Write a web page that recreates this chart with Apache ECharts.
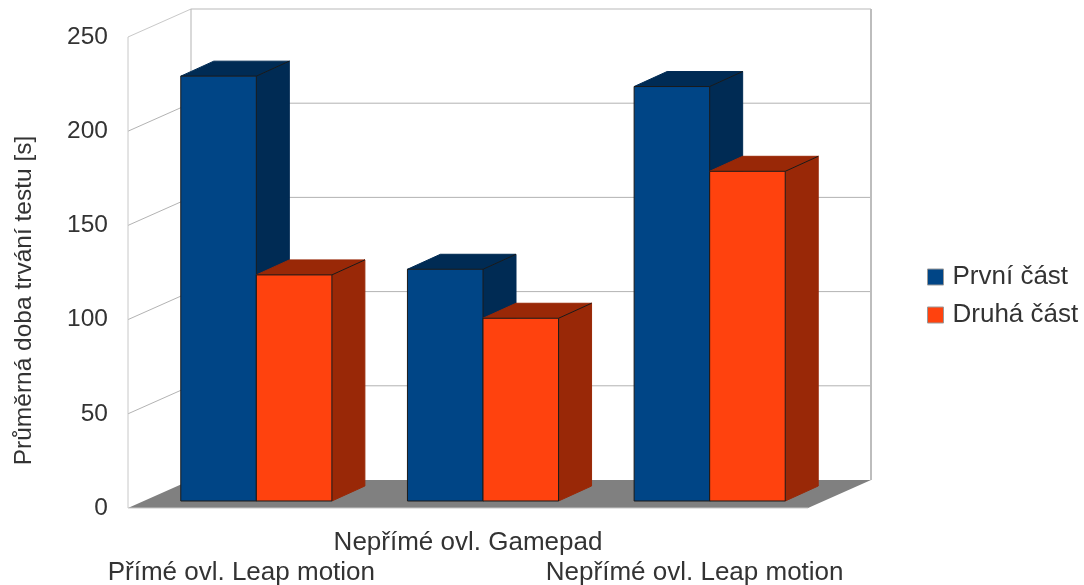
<!DOCTYPE html>
<html>
<head>
<meta charset="utf-8">
<style>html,body{margin:0;padding:0;background:#fff}#c{width:1084px;height:585px}</style>
<script src="https://cdn.jsdelivr.net/npm/echarts@6/dist/echarts.min.js"></script>
</head>
<body>
<div id="c"></div>
<script>
const categories = ['Přímé ovl. Leap motion', 'Nepřímé ovl. Gamepad', 'Nepřímé ovl. Leap motion'];
const prvniCast = [225.5, 123, 220];
const druhaCast = [120, 97, 175];
const yTicks = [0, 50, 100, 150, 200, 250];
const seriesNames = ['První část', 'Druhá část'];

const WALL_DX = 63, WALL_DY = 28;   // floor depth
const BAR_DX = 15, BAR_DY = 7;      // gap between the front plane and the bars
const DEPTH_DX = 33, DEPTH_DY = 15; // bar depth
const FONT = '"Liberation Sans", Arial, sans-serif';

function wallItem(params, api) {
  const r = params.coordSys;
  const y = api.coord([0, api.value(1)])[1];
  const v = api.value(1);
  const x0 = r.x, x1 = r.x + WALL_DX, x2 = r.x + r.width + WALL_DX, yb = y - WALL_DY;
  const grey = '#b3b3b3', light = '#c8c8c8';
  const kids = [];
  const line = (a, b, c, d, col, w) => kids.push({type: 'line', shape: {x1: a, y1: b, x2: c, y2: d}, style: {stroke: col, lineWidth: w}});
  if (v === 0) {
    kids.push({type: 'polygon', shape: {points: [[x0, y], [r.x + r.width, y], [x2, yb], [x1, yb]]}, style: {fill: '#808080'}});
    line(x0, y, r.x + r.width, y, '#c8c8c8', 1);
    line(x0, y, x0, r.y, light, 1);
    line(x1, yb, x1, r.y - WALL_DY, grey, 1);
    line(x2, yb, x2, r.y - WALL_DY, '#bdbdbd', 2);
  } else {
    line(x0, y, x1, yb, v === 250 ? light : grey, 1);
    line(x1, yb, x2, yb, v === 250 ? '#dcdcdc' : grey, v === 250 ? 2 : 1);
  }
  return {type: 'group', children: kids};
}

function barItem(seriesIndex, front, dark) {
  return function (params, api) {
    const cat = api.value(0);
    const top = api.coord([cat, api.value(1)]);
    const base = api.coord([cat, 0]);
    const w = api.size([1, 0])[0] / 3;
    const xl = top[0] + BAR_DX + (seriesIndex - 1) * w;
    const xr = xl + w;
    const yt = top[1] - BAR_DY;
    const yb = base[1] - BAR_DY;
    const edge = {stroke: '#1a1a1a', lineWidth: 1, lineJoin: 'round'};
    return {
      type: 'group',
      children: [
        {type: 'polygon', shape: {points: [[xr, yt], [xr + DEPTH_DX, yt - DEPTH_DY], [xr + DEPTH_DX, yb - DEPTH_DY], [xr, yb]]}, style: {fill: dark, stroke: dark, lineWidth: 1}},
        {type: 'polygon', shape: {points: [[xl, yt], [xl + DEPTH_DX, yt - DEPTH_DY], [xr + DEPTH_DX, yt - DEPTH_DY], [xr, yt]]}, style: {fill: dark, stroke: dark, lineWidth: 1}},
        {type: 'line', shape: {x1: xr, y1: yt, x2: xr + DEPTH_DX, y2: yt - DEPTH_DY}, style: edge},
        {type: 'rect', shape: {x: xl, y: yt, width: w, height: yb - yt}, style: {fill: front, stroke: '#1a1a1a', lineWidth: 1}}
      ]
    };
  };
}

const chart = echarts.init(document.getElementById('c'), null, {renderer: 'canvas'});
chart.setOption({
  animation: false,
  backgroundColor: '#fff',
  grid: {left: 128, top: 37, width: 680, height: 471, outerBoundsMode: 'none'},
  legend: {
    data: seriesNames, orient: 'vertical', left: 927, top: 264, padding: 0, itemWidth: 16, itemHeight: 16, itemGap: 12, icon: 'rect',
    itemStyle: {borderColor: '#999', borderWidth: 1},
    textStyle: {fontFamily: FONT, fontSize: 26, color: '#333', padding: [0, 0, 0, 4]},
    selectedMode: false
  },
  xAxis: {
    type: 'category', data: categories,
    axisLine: {show: false}, axisTick: {show: false}, splitLine: {show: false},
    axisLabel: {
      interval: 0, margin: 20, fontFamily: FONT, fontSize: 26, lineHeight: 30, color: '#333',
      formatter: (v, i) => i % 2 ? v + '\n ' : ' \n' + v
    }
  },
  yAxis: {
    type: 'value', min: 0, max: 250, interval: 50,
    axisLine: {show: false}, axisTick: {show: false}, splitLine: {show: false},
    axisLabel: {margin: 20, fontFamily: FONT, fontSize: 24.5, color: '#333', padding: [4, 0, 0, 0]},
    name: 'Průměrná doba trvání testu [s]', nameLocation: 'middle', nameGap: 91,
    nameTextStyle: {fontFamily: FONT, fontSize: 24.5, color: '#333', padding: [0, 56, 0, 0]}
  },
  series: [
    {type: 'custom', name: 'walls', silent: true, clip: false, renderItem: wallItem,
     encode: {x: 0, y: 1}, data: yTicks.map(v => [0, v]).reverse()},
    {type: 'custom', name: seriesNames[0], clip: false, renderItem: barItem(0, '#004586', '#002b54'),
     itemStyle: {color: '#004586', borderColor: '#1a1a1a', borderWidth: 1},
     encode: {x: 0, y: 1}, data: prvniCast.map((v, i) => [i, v])},
    {type: 'custom', name: seriesNames[1], clip: false, renderItem: barItem(1, '#ff420e', '#992807'),
     itemStyle: {color: '#ff420e', borderColor: '#1a1a1a', borderWidth: 1},
     encode: {x: 0, y: 1}, data: druhaCast.map((v, i) => [i, v])}
  ]
});
</script>
</body>
</html>
